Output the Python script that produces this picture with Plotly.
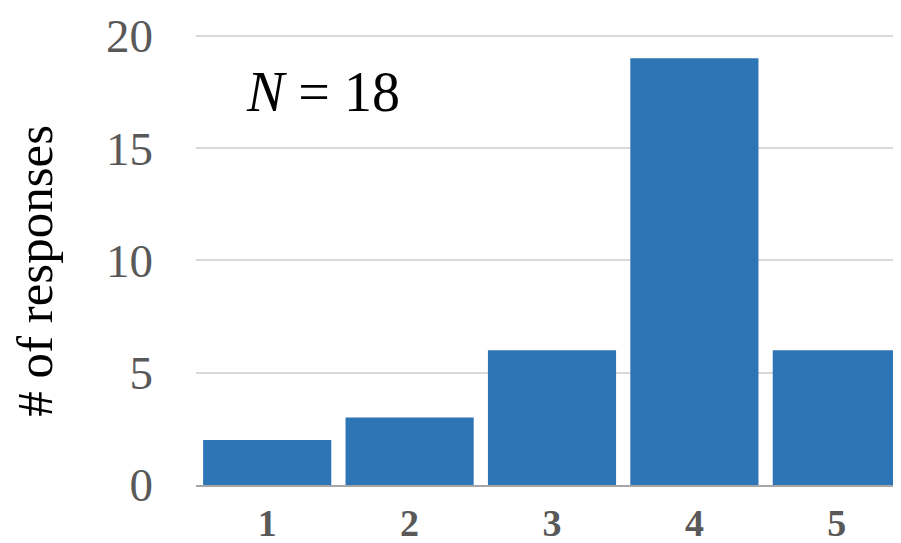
import plotly.graph_objects as go

categories = ["1", "2", "3", "4", "5"]
responses = [2, 3, 6, 19, 6]
y_ticks = [0, 5, 10, 15, 20]
annotation_text = "<i>N</i> = 18"
y_title = "# of responses"

fig = go.Figure(go.Bar(x=categories, y=responses, marker=dict(color="#2E75B6", line=dict(width=0))))

fig.update_layout(
    width=900, height=535,
    margin=dict(l=188, r=0, t=21, b=58, autoexpand=False),
    paper_bgcolor="white", plot_bgcolor="white",
    bargap=0.1,
    showlegend=False,
)
fig.update_xaxes(
    type="category", automargin=False,
    tickfont=dict(family="Liberation Serif", size=38, color="#595959", weight="bold"),
    showline=True, linecolor="#A6A6A6", linewidth=2,
    ticks="", ticklabelstandoff=3,
)
fig.update_yaxes(
    range=[0, 20.3], tickvals=y_ticks, automargin=False,
    tickfont=dict(family="Liberation Serif", size=47, color="#595959"),
    showgrid=True, gridcolor="#D9D9D9", gridwidth=2,
    zeroline=False, ticks="", ticklabelstandoff=42, ticklabelshift=0,
    ticklabeloverflow="allow",
)
fig.add_annotation(
    text=y_title, xref="paper", yref="paper", x=-0.226, y=0.47,
    xanchor="center", yanchor="middle", textangle=-90, showarrow=False,
    font=dict(family="Liberation Serif", size=51, color="black"),
)
fig.add_annotation(
    text=annotation_text, xref="paper", yref="paper", x=0.068, y=0.862,
    xanchor="left", yanchor="middle", showarrow=False,
    font=dict(family="Liberation Serif", size=56, color="black"),
)
fig.write_html("out.html")
